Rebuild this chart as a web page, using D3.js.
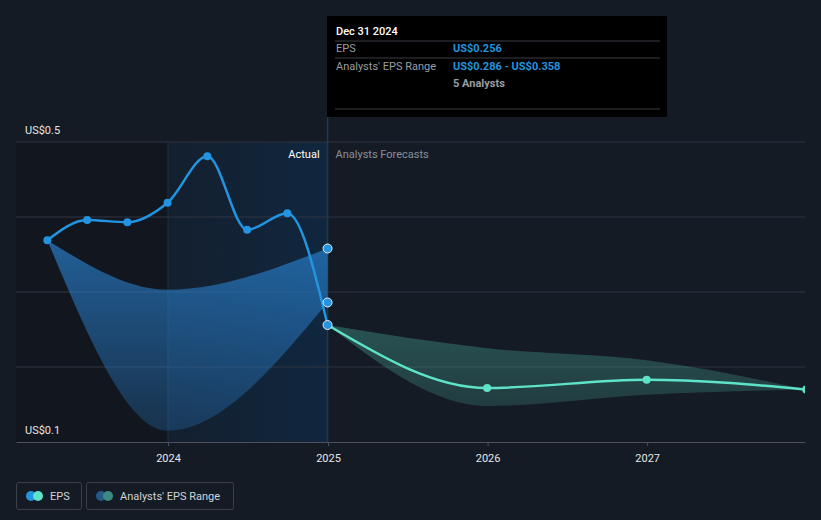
<!DOCTYPE html>
<html><head><meta charset="utf-8">
<script src="https://cdn.jsdelivr.net/npm/d3@7"></script>
<style>
html,body{margin:0;padding:0;background:#151b24;}
svg{display:block;font-family:Roboto,"Noto Sans",sans-serif;}
</style></head>
<body><svg id="c" width="821" height="520"></svg>
<script>
// ---- data ----
const epsDates = ["2023-03-31","2023-06-30","2023-09-30","2023-12-31","2024-03-31","2024-06-30","2024-09-30","2024-12-31"];
const epsValues = [0.369,0.396,0.393,0.419,0.481,0.383,0.405,0.256];
const pastRangeDates = ["2023-03-31","2023-12-31","2024-12-31"];
const pastRangeLow  = [0.369,0.115,0.286];
const pastRangeHigh = [0.369,0.303,0.358];
const fcDates = ["2024-12-31","2025-12-31","2026-12-31","2027-12-31"];
const fcValues = [0.256,0.172,0.183,0.170];
const fcLow  = [0.256,0.148,0.163,0.170];
const fcHigh = [0.256,0.225,0.209,0.170];
const yTicks = [0.1,0.2,0.3,0.4,0.5];
const yLabelTicks = [0.1,0.5];
const xTickYears = ["2024","2025","2026","2027"];

const parse = d3.timeParse("%Y-%m-%d");
const svg = d3.select("#c");
const pLeft = 16, pRight = 805, pTop = 142, pBottom = 442;

const ref = d3.scaleTime().domain([parse("2024-01-01"), parse("2025-01-01")]).range([168, 328]);
const x = d3.scaleTime().domain([ref.invert(pLeft), ref.invert(pRight)]).range([pLeft, pRight]);
const y = d3.scaleLinear().domain([0.1, 0.5]).range([pBottom, pTop]);

const defs = svg.append("defs");
defs.append("clipPath").attr("id","clip").append("rect")
  .attr("x", pLeft).attr("y", 0).attr("width", pRight-pLeft).attr("height", pBottom);
const hg = defs.append("linearGradient").attr("id","hl").attr("x1",0).attr("x2",1).attr("y1",0).attr("y2",0);
hg.append("stop").attr("offset",0).attr("stop-color","#12243a").attr("stop-opacity",0.5);
hg.append("stop").attr("offset",1).attr("stop-color","#10273f").attr("stop-opacity",1);
const pg = defs.append("linearGradient").attr("id","pastBand").attr("x1",0).attr("x2",0).attr("y1",0).attr("y2",1);
pg.append("stop").attr("offset",0).attr("stop-color","#2a86d8").attr("stop-opacity",0.65);
pg.append("stop").attr("offset",1).attr("stop-color","#2a86d8").attr("stop-opacity",0.25);
const fg = defs.append("linearGradient").attr("id","fcBand").attr("x1",0).attr("x2",0).attr("y1",0).attr("y2",1);
fg.append("stop").attr("offset",0).attr("stop-color","#58d3be").attr("stop-opacity",0.3);
fg.append("stop").attr("offset",1).attr("stop-color","#58d3be").attr("stop-opacity",0.18);

const d2024 = parse("2024-01-01"), d2025 = parse("2024-12-31");
svg.append("rect").attr("x", pLeft).attr("y", pTop).attr("width", x(d2024)-pLeft).attr("height", pBottom-pTop)
  .attr("fill","#12161e");
svg.append("rect").attr("x", x(d2024)).attr("y", pTop).attr("width", x(d2025)-x(d2024)).attr("height", pBottom-pTop)
  .attr("fill","url(#hl)");
svg.append("line").attr("x1", x(d2024)).attr("x2", x(d2024)).attr("y1", pTop).attr("y2", pBottom)
  .attr("stroke","#1a3147").attr("stroke-width",1);

svg.append("g").selectAll("line").data(yTicks.filter(v=>v>0.1)).join("line")
  .attr("x1", pLeft).attr("x2", pRight).attr("y1", d=>y(d)).attr("y2", d=>y(d))
  .attr("stroke","#2f3540").attr("stroke-width",1);

svg.append("g").selectAll("text").data(yLabelTicks).join("text")
  .attr("x", 25).attr("y", d=>y(d)-8).text(d=>"US$"+d)
  .attr("fill","#e6e6e6").attr("font-size",11);

svg.append("line").attr("x1", x(d2025)).attr("x2", x(d2025)).attr("y1", 117).attr("y2", pBottom)
  .attr("stroke","#1d3a55").attr("stroke-width",1.5);

const xAxis = d3.axisBottom(x).tickValues(xTickYears.map(s=>parse(s+"-01-01"))).tickFormat(d3.timeFormat("%Y")).tickSize(4).tickSizeOuter(0);
const ax = svg.append("g").attr("transform",`translate(0,${pBottom})`).call(xAxis);
ax.select(".domain").attr("stroke","#4b505a");
ax.selectAll(".tick line").attr("stroke","#4b505a");
ax.selectAll(".tick text").attr("fill","#e6e6e6").attr("font-size",11).attr("dy","1.2em").attr("font-family","Roboto,sans-serif");

const g = svg.append("g").attr("clip-path","url(#clip)");
const curve = d3.curveMonotoneX;

const pastBand = pastRangeDates.map((d,i)=>({d:parse(d), lo:pastRangeLow[i], hi:pastRangeHigh[i]}));
g.append("path").datum(pastBand)
  .attr("d", d3.area().x(d=>x(d.d)).y0(d=>y(d.lo)).y1(d=>y(d.hi)).curve(curve))
  .attr("fill","url(#pastBand)");

const fcBand = fcDates.map((d,i)=>({d:parse(d), lo:fcLow[i], hi:fcHigh[i]}));
g.append("path").datum(fcBand)
  .attr("d", d3.area().x(d=>x(d.d)).y0(d=>y(d.lo)).y1(d=>y(d.hi)).curve(curve))
  .attr("fill","url(#fcBand)");

const fc = fcDates.map((d,i)=>({d:parse(d), v:fcValues[i]}));
g.append("path").datum(fc)
  .attr("d", d3.line().x(d=>x(d.d)).y(d=>y(d.v)).curve(curve))
  .attr("fill","none").attr("stroke","#5fe3c8").attr("stroke-width",2.5);
g.selectAll(".fcdot").data(fc.slice(1)).join("circle")
  .attr("cx", d=>x(d.d)).attr("cy", d=>y(d.v)).attr("r",4).attr("fill","#5fe3c8");

const eps = epsDates.map((d,i)=>({d:parse(d), v:epsValues[i]}));
g.append("path").datum(eps)
  .attr("d", d3.line().x(d=>x(d.d)).y(d=>y(d.v)).curve(curve))
  .attr("fill","none").attr("stroke","#2394df").attr("stroke-width",2.5);
g.selectAll(".epsdot").data(eps.slice(0,-1)).join("circle")
  .attr("cx", d=>x(d.d)).attr("cy", d=>y(d.v)).attr("r",4).attr("fill","#2394df");

const last = pastBand[pastBand.length-1];
const hl = [last.hi, last.lo, eps[eps.length-1].v];
svg.selectAll(".hldot").data(hl).join("circle")
  .attr("cx", x(last.d)).attr("cy", d=>y(d)).attr("r",4.5)
  .attr("fill","#2394df").attr("stroke","#e8eef5").attr("stroke-width",1);

svg.append("text").attr("x", x(d2025)-8).attr("y", 158).attr("text-anchor","end")
  .attr("fill","#ffffff").attr("font-size",11).text("Actual");
svg.append("text").attr("x", x(d2025)+8).attr("y", 158)
  .attr("fill","#8a8f98").attr("font-size",11).text("Analysts Forecasts");

const tt = svg.append("g");
tt.append("rect").attr("x",327).attr("y",16).attr("width",340).attr("height",101).attr("fill","#000000");
tt.append("text").attr("x",336).attr("y",35).attr("fill","#ffffff").attr("font-size",11).attr("font-weight",500).text("Dec 31 2024");
[41,58,109].forEach(yy=>tt.append("line").attr("x1",335).attr("x2",660).attr("y1",yy).attr("y2",yy).attr("stroke","#3a3d42").attr("stroke-width",1));
tt.append("text").attr("x",336).attr("y",52).attr("fill","#9a9da3").attr("font-size",11).text("EPS");
tt.append("text").attr("x",453).attr("y",52).attr("fill","#2394df").attr("font-size",11).attr("font-weight",700).text("US$" + epsValues[epsValues.length-1].toFixed(3));
tt.append("text").attr("x",336).attr("y",70).attr("fill","#9a9da3").attr("font-size",11).text("Analysts' EPS Range");
tt.append("text").attr("x",453).attr("y",70).attr("fill","#2394df").attr("font-size",11).attr("font-weight",700).text("US$" + last.lo.toFixed(3) + " - US$" + last.hi.toFixed(3));
tt.append("text").attr("x",453).attr("y",87).attr("fill","#9a9da3").attr("font-size",11).attr("font-weight",700).text("5 Analysts");

const lg = svg.append("g");
const items = [{label:"EPS", c1:"#2394df", c2:"#5fe3c8", x:16, w:65},{label:"Analysts' EPS Range", c1:"#235a88", c2:"#3d8a85", x:86, w:147}];
items.forEach(it=>{
  const gg = lg.append("g").attr("transform",`translate(${it.x},482)`);
  gg.append("rect").attr("x",0.5).attr("y",0.5).attr("width",it.w).attr("height",27).attr("rx",2)
    .attr("fill","none").attr("stroke","#3a3f48");
  gg.append("circle").attr("cx",15).attr("cy",14).attr("r",5).attr("fill",it.c1);
  gg.append("circle").attr("cx",22).attr("cy",14).attr("r",5).attr("fill",it.c2);
  gg.append("text").attr("x",34).attr("y",18).attr("fill","#d0d3d8").attr("font-size",11).text(it.label);
});
</script>
</body></html>
